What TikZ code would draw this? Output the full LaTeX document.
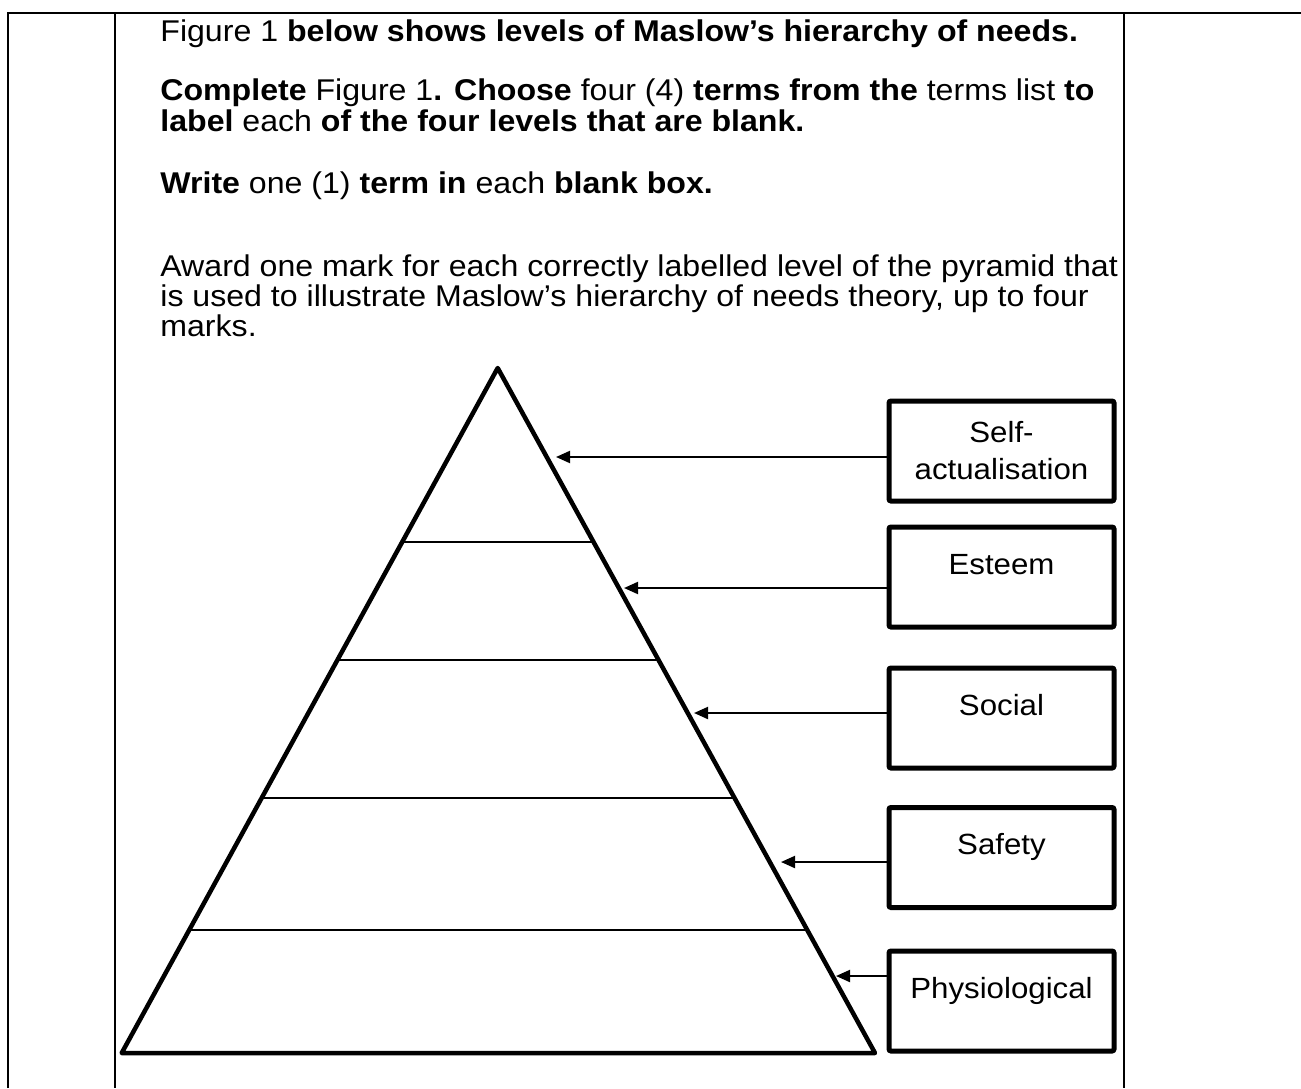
\documentclass[tikz,border=0pt]{standalone}
\usepackage{fontspec}
\setmainfont{Liberation Sans}[FakeStretch=1.07]
\usetikzlibrary{arrows.meta}

\begin{document}
\begin{tikzpicture}[x=0.5pt, y=-0.5pt,
  every node/.style={font=\fontsize{15}{18.5}\selectfont},
  txt/.style={anchor=base west, inner sep=0pt},
  lvlbox/.style={draw, line width=2.5pt, rounded corners=1pt, minimum width=112.5pt,
    minimum height=50pt, inner sep=0pt, align=center, font=\fontsize{14.6}{18.5}\selectfont},
  word/.style={lvlbox, text height=11pt, text depth=13.7pt},
  thin/.style={line width=1pt},
  ptr/.style={line width=1pt, -{Triangle[length=7pt,width=6pt]}}]
\useasboundingbox (0,0) rectangle (1301,1088);

% table frame
\draw[thin] (8,1088) -- (8,13) -- (1301,13);
\draw[thin] (115,13) -- (115,1088);
\draw[thin] (1124,13) -- (1124,1088);

% question text
\node[txt] (l1) at (160,41) {Figure 1 \textbf{below shows levels of Maslow’s hierarchy of needs.}};
\node[txt] (l2) at (160,100) {\textbf{Complete} Figure 1\textbf{. Choose} four (4) \textbf{terms from the} terms list \textbf{to}};
\node[txt] (l3) at (160,131) {\textbf{label} each \textbf{of the four levels that are blank.}};
\node[txt] (l4) at (160,193) {\textbf{Write} one (1) \textbf{term in} each \textbf{blank box.}};
\node[txt] (l5) at (160,276) {Award one mark for each correctly labelled level of the pyramid that};
\node[txt] (l6) at (160,306) {is used to illustrate Maslow’s hierarchy of needs theory, up to four};
\node[txt] (l7) at (160,336) {marks.};

% pyramid
\coordinate (top) at (497.7,368);
\coordinate (bl) at (121.7,1053);
\coordinate (br) at (875,1053);
\draw[thin] (402,542) -- (593,542);
\draw[thin] (337,660) -- (658,660);
\draw[thin] (261,798) -- (734,798);
\draw[thin] (189,930) -- (807,930);
\draw[line width=2.25pt, line join=round] (top) -- (br) -- (bl) -- cycle;

% labels
\node[lvlbox] (1) at (1001.5,451) {Self-\\actualisation};
\node[word] (2) at (1001.5,577) {Esteem};
\node[word] (3) at (1001.5,718) {Social};
\node[word] (4) at (1001.5,857.5) {Safety};
\node[word] (5) at (1001.5,1001) {Physiological};

\coordinate (p1) at (556,457);
\coordinate (p2) at (624,588);
\coordinate (p3) at (694,713);
\coordinate (p4) at (781,862);
\coordinate (p5) at (836,976);
\draw[ptr] (1.west |- p1) -- (p1);
\draw[ptr] (2.west |- p2) -- (p2);
\draw[ptr] (3.west |- p3) -- (p3);
\draw[ptr] (4.west |- p4) -- (p4);
\draw[ptr] (5.west |- p5) -- (p5);
\end{tikzpicture}
\end{document}
